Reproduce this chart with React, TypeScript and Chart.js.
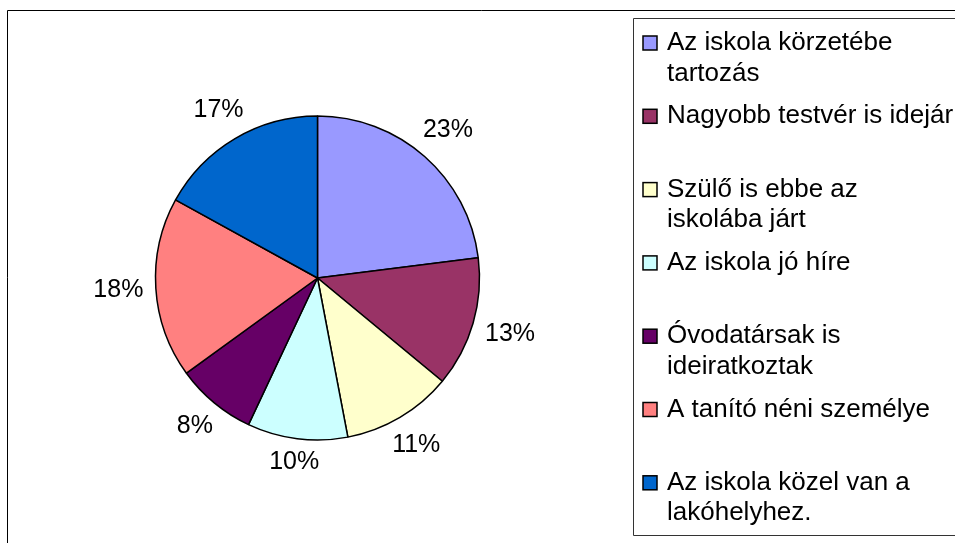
import React, { useEffect, useRef } from "react";
import { Chart, registerables } from "chart.js";

Chart.register(...registerables);

const categories: string[] = [
  "Az iskola körzetébe\ntartozás",
  "Nagyobb testvér is idejár",
  "Szülő is ebbe az\niskolába járt",
  "Az iskola jó híre",
  "Óvodatársak is\nideiratkoztak",
  "A tanító néni személye",
  "Az iskola közel van a\nlakóhelyhez.",
];
const values: number[] = [23, 13, 11, 10, 8, 18, 17];
const colors: string[] = [
  "#9999FF",
  "#993366",
  "#FFFFCC",
  "#CCFFFF",
  "#660066",
  "#FF8080",
  "#0066CC",
];

const FONT = '"Liberation Sans", Arial, sans-serif';

const labelPlugin = {
  id: "pctLabels",
  afterDatasetsDraw(chart: any) {
    const ctx = chart.ctx;
    const meta = chart.getDatasetMeta(0);
    const data = chart.data.datasets[0].data as number[];
    const total = data.reduce((a, b) => a + b, 0);
    ctx.save();
    ctx.font = `25px ${FONT}`;
    ctx.fillStyle = "#000";
    ctx.textAlign = "center";
    ctx.textBaseline = "middle";
    meta.data.forEach((arc: any, i: number) => {
      const { x, y, startAngle, endAngle, outerRadius } = arc.getProps(
        ["x", "y", "startAngle", "endAngle", "outerRadius"],
        true
      );
      const mid = (startAngle + endAngle) / 2;
      const text = Math.round((data[i] / total) * 100) + "%";
      const w = ctx.measureText(text).width;
      const h = 18;
      const support = (w / 2) * Math.abs(Math.cos(mid)) + (h / 2) * Math.abs(Math.sin(mid));
      const d = outerRadius + 12 + support;
      ctx.fillText(text, x + Math.cos(mid) * d, y + Math.sin(mid) * d);
    });
    ctx.restore();
  },
};

const framePlugin = {
  id: "frameLegend",
  afterDraw(chart: any) {
    const ctx = chart.ctx;
    const W = chart.width;
    const H = chart.height;
    ctx.save();
    // outer frame
    ctx.strokeStyle = "#000";
    ctx.lineWidth = 1;
    ctx.beginPath();
    ctx.moveTo(7.5, H + 5);
    ctx.lineTo(7.5, 10.5);
    ctx.lineTo(W + 5, 10.5);
    ctx.stroke();
    // legend box
    const lx = 633.5;
    const ly = 18.5;
    const lb = 535.5;
    ctx.strokeStyle = "#333";
    ctx.beginPath();
    ctx.moveTo(W + 5, ly);
    ctx.lineTo(lx, ly);
    ctx.lineTo(lx, lb);
    ctx.lineTo(W + 5, lb);
    ctx.stroke();
    // entries
    const labels = chart.data.labels as string[];
    const bg = chart.data.datasets[0].backgroundColor as string[];
    ctx.font = `26px ${FONT}`;
    ctx.textAlign = "left";
    ctx.textBaseline = "middle";
    const pitch = 73.3;
    const first = 43;
    labels.forEach((lab, i) => {
      const cy = first + pitch * i;
      ctx.fillStyle = bg[i];
      ctx.fillRect(643, cy - 7, 14, 14);
      ctx.strokeStyle = "#000";
      ctx.lineWidth = 1.5;
      ctx.strokeRect(643, cy - 7, 14, 14);
      ctx.fillStyle = "#000";
      lab.split("\n").forEach((line, j) => {
        ctx.fillText(line, 667, cy + j * 30.5);
      });
    });
    ctx.restore();
  },
};

export default function App() {
  const ref = useRef<HTMLCanvasElement | null>(null);
  useEffect(() => {
    if (!ref.current) return;
    const chart = new Chart(ref.current, {
      type: "pie",
      data: {
        labels: categories,
        datasets: [
          {
            data: values,
            backgroundColor: colors,
            borderColor: "#000",
            borderWidth: 1.5,
          },
        ],
      },
      options: {
        responsive: false,
        animation: false,
        events: [],
        layout: {
          padding: { left: 154.75, right: 474.75, top: 115.25, bottom: 102.25 },
        },
        plugins: {
          legend: { display: false },
          tooltip: { enabled: false },
        },
      },
      plugins: [labelPlugin, framePlugin],
    });
    return () => chart.destroy();
  }, []);
  return (
    <canvas
      ref={ref}
      width={955}
      height={543}
      style={{ position: "fixed", left: 0, top: 0, width: 955, height: 543, background: "#fff" }}
    />
  );
}
